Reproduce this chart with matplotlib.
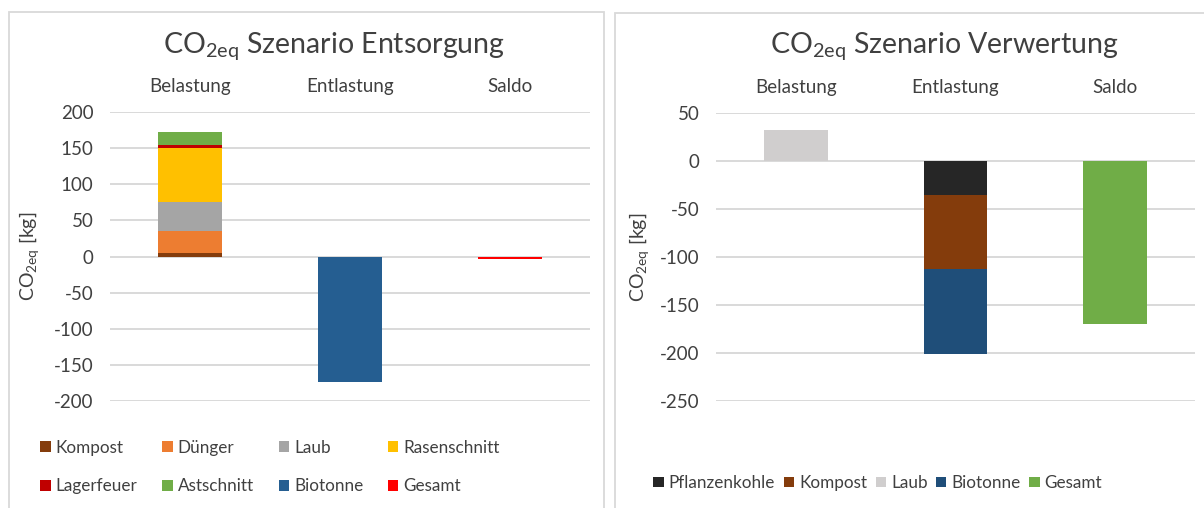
import matplotlib
matplotlib.use("Agg")
import matplotlib.pyplot as plt
from matplotlib.patches import Rectangle
import numpy as np

plt.rcParams['font.family'] = ['Lato', 'DejaVu Sans']
plt.rcParams['mathtext.default'] = 'regular'

categories = ["Belastung", "Entlastung", "Saldo"]

# Left chart: Szenario Entsorgung
left_series = ["Kompost", "Dünger", "Laub", "Rasenschnitt", "Lagerfeuer", "Astschnitt", "Biotonne", "Gesamt"]
left_values = {
    "Kompost":      [5, 0, 0],
    "Dünger":       [30, 0, 0],
    "Laub":         [41, 0, 0],
    "Rasenschnitt": [74, 0, 0],
    "Lagerfeuer":   [5, 0, 0],
    "Astschnitt":   [17, 0, 0],
    "Biotonne":     [0, -174, 0],
    "Gesamt":       [0, 0, -3],
}
left_colors = {
    "Kompost": "#843C0C", "Dünger": "#ED7D31", "Laub": "#A5A5A5", "Rasenschnitt": "#FFC000",
    "Lagerfeuer": "#C00000", "Astschnitt": "#70AD47", "Biotonne": "#255E91", "Gesamt": "#FF0000",
}
left_yticks = [200, 150, 100, 50, 0, -50, -100, -150, -200]

# Right chart: Szenario Verwertung
right_series = ["Pflanzenkohle", "Kompost", "Laub", "Biotonne", "Gesamt"]
right_values = {
    "Pflanzenkohle": [0, -35, 0],
    "Kompost":       [0, -78, 0],
    "Laub":          [32, 0, 0],
    "Biotonne":      [0, -88, 0],
    "Gesamt":        [0, 0, -170],
}
right_colors = {
    "Pflanzenkohle": "#262626", "Kompost": "#843C0C", "Laub": "#D0CECE",
    "Biotonne": "#1F4E79", "Gesamt": "#70AD47",
}
right_yticks = [50, 0, -50, -100, -150, -200, -250]

TXT = "#404040"
GRID = "#D9D9D9"

W, H = 1204, 508
fig = plt.figure(figsize=(W / 100, H / 100), dpi=100)

# panel borders
fig.add_artist(Rectangle((9 / W, -0.05), (604 - 9) / W, (H - 12) / H + 0.05,
                         transform=fig.transFigure, fill=False, edgecolor=GRID, lw=1.3))
fig.add_artist(Rectangle((615 / W, -0.05), (W + 20 - 615) / W, (H - 13) / H + 0.05,
                         transform=fig.transFigure, fill=False, edgecolor=GRID, lw=1.3))


def stacked(ax, series, values, colors):
    x = np.arange(len(categories))
    pos = np.zeros(len(categories))
    neg = np.zeros(len(categories))
    handles = {}
    for s in series:
        v = np.array(values[s], dtype=float)
        bottom = np.where(v >= 0, pos, neg)
        b = ax.bar(x, v, width=0.4, bottom=bottom, color=colors[s], label=s, zorder=3)
        handles[s] = b
        pos = pos + np.where(v >= 0, v, 0)
        neg = neg + np.where(v < 0, v, 0)
    return handles


def style(ax, yticks, ylim):
    ax.set_xlim(-0.5, 2.5)
    ax.set_ylim(*ylim)
    ax.set_yticks(yticks)
    ax.set_yticklabels([str(t) for t in yticks])
    ax.set_xticks(range(len(categories)))
    ax.set_xticklabels(categories)
    ax.xaxis.tick_top()
    ax.tick_params(axis='x', length=0, pad=12, labelsize=13.5, colors=TXT)
    ax.tick_params(axis='y', length=0, pad=12, labelsize=13.5, colors=TXT)
    for sp in ax.spines.values():
        sp.set_visible(False)
    ax.yaxis.grid(True, color=GRID, lw=1.4, zorder=0)
    ax.set_axisbelow(True)


# Left axes
axL = fig.add_axes([110 / W, (H - 401) / H, 480 / W, 289 / H])
hL = stacked(axL, left_series, left_values, left_colors)
style(axL, left_yticks, (-200, 200))
axL.set_ylabel("CO$_{2eq}$ [kg]", fontsize=14, color=TXT, labelpad=9)
fig.text(334 / W, 1 - 46 / H, "CO$_{2eq}$ Szenario Entsorgung", ha='center', va='center',
         fontsize=20.5, color=TXT)

order = ["Kompost", "Lagerfeuer", "Dünger", "Astschnitt", "Laub", "Biotonne", "Rasenschnitt", "Gesamt"]
legL = fig.legend([hL[s] for s in order], order, ncol=4, loc='center left',
                  bbox_to_anchor=(25 / W, 1 - 467 / H), frameon=False, fontsize=12.3,
                  handlelength=0.6, handleheight=0.6, handletextpad=0.3,
                  columnspacing=1.45, labelspacing=1.3, labelcolor=TXT)

# Right axes
axR = fig.add_axes([716 / W, (H - 401) / H, 479 / W, 288 / H])
hR = stacked(axR, right_series, right_values, right_colors)
style(axR, right_yticks, (-250, 50))
axR.set_ylabel("CO$_{2eq}$ [kg]", fontsize=14, color=TXT, labelpad=6)
fig.text(944 / W, 1 - 46 / H, "CO$_{2eq}$ Szenario Verwertung", ha='center', va='center',
         fontsize=20.5, color=TXT)
legR = fig.legend([hR[s] for s in right_series], right_series, ncol=5, loc='center left',
                  bbox_to_anchor=(638 / W, 1 - 483 / H), frameon=False, fontsize=12.3,
                  handlelength=0.6, handleheight=0.6, handletextpad=0.3,
                  columnspacing=0.5, labelcolor=TXT)

fig.savefig("out.png", dpi=100)
